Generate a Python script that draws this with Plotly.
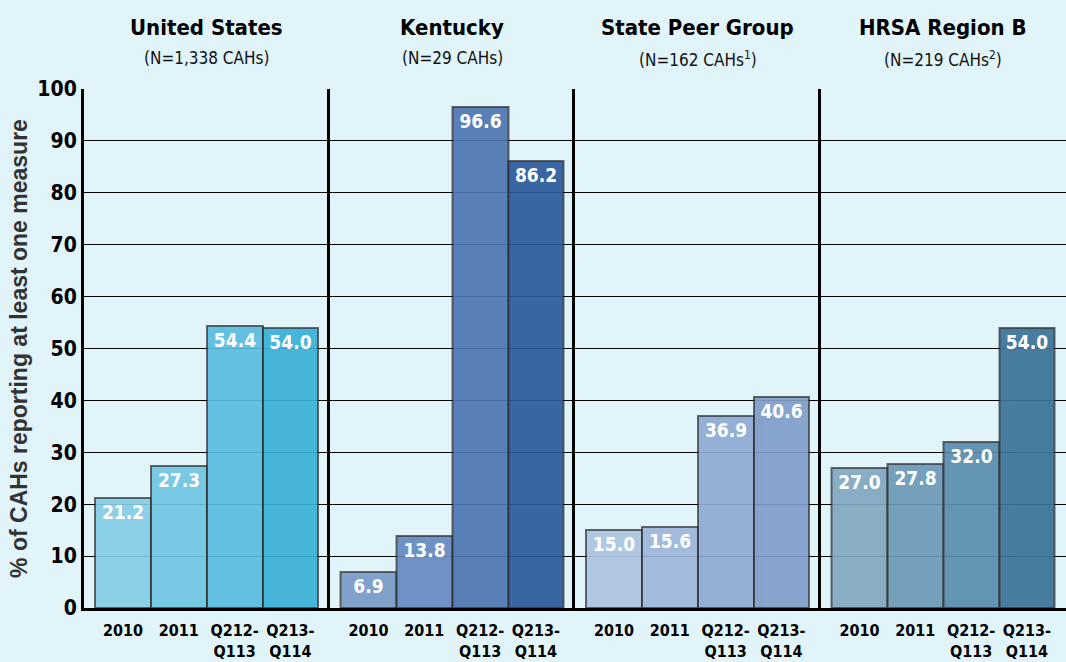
import plotly.graph_objects as go
from plotly.subplots import make_subplots

periods = ['2010', '2011', 'Q212-<br>Q113', 'Q213-<br>Q114']

groups = ['United States', 'Kentucky', 'State Peer Group', 'HRSA Region B']
group_n = ['(N=1,338 CAHs)', '(N=29 CAHs)', '(N=162 CAHs<sup>1</sup>)', '(N=219 CAHs<sup>2</sup>)']

us_values = [21.2, 27.3, 54.4, 54.0]
ky_values = [6.9, 13.8, 96.6, 86.2]
peer_values = [15.0, 15.6, 36.9, 40.6]
hrsa_values = [27.0, 27.8, 32.0, 54.0]

us_colors = ['#85cde6', '#6fc5e2', '#59bcdf', '#38b0d6']
ky_colors = ['#7a99c6', '#6589c0', '#4e76b0', '#2b5a9b']
peer_colors = ['#adc4e0', '#9db6da', '#8eabd4', '#7f9dc8']
hrsa_colors = ['#80a7c1', '#6b98b6', '#5a8bad', '#3c7298']

all_values = [us_values, ky_values, peer_values, hrsa_values]
all_colors = [us_colors, ky_colors, peer_colors, hrsa_colors]

font_narrow = 'DejaVu Sans Condensed, Liberation Sans Narrow, sans-serif'

fig = make_subplots(rows=1, cols=4, shared_yaxes=True, horizontal_spacing=0)

for i, (vals, cols) in enumerate(zip(all_values, all_colors)):
    fig.add_trace(go.Bar(
        x=periods,
        y=vals,
        marker=dict(color=cols, opacity=0.92,
                    line=dict(color='rgba(40,40,40,0.75)', width=2)),
        text=[f'{v:.1f}' for v in vals],
        textposition='inside',
        insidetextanchor='end',
        textangle=0,
        textfont=dict(family=font_narrow, size=19, color='white', weight='bold'),
        cliponaxis=False,
        showlegend=False,
        hoverinfo='skip',
    ), row=1, col=i + 1)

    xref = f'x{i + 1 if i else ""} domain'
    fig.add_annotation(
        text=f'<b>{groups[i]}</b>', xref=xref, yref='paper',
        x=0.5, y=1.0, yshift=76, showarrow=False,
        font=dict(family=font_narrow, size=22, color='black'),
    )
    fig.add_annotation(
        text=group_n[i], xref=xref, yref='paper',
        x=0.5, y=1.0, yshift=43, showarrow=False,
        font=dict(family=font_narrow, size=17, color='#111'),
    )

fig.update_xaxes(
    type='category', range=[-0.7, 3.7], showline=True, linecolor='black', linewidth=3,
    ticks='', showgrid=False, ticklabelstandoff=6,
    tickfont=dict(family=font_narrow, size=16, color='black', weight='bold'),
)
fig.update_yaxes(
    range=[0, 100], dtick=10, showgrid=True, gridcolor='black', gridwidth=1,
    showline=True, linecolor='black', linewidth=3, zeroline=False,
    ticks='', tickfont=dict(family=font_narrow, size=21, color='black', weight='bold'),
)
fig.update_yaxes(
    title=dict(text='% of CAHs reporting at least one measure',
               font=dict(family='Liberation Sans, Arial, sans-serif', size=23, color='#333', weight='bold'),
               standoff=4),
    row=1, col=1,
)

fig.update_layout(
    width=1066, height=662,
    margin=dict(l=84, r=0, t=89, b=54),
    paper_bgcolor='#e0f4f9', plot_bgcolor='#e0f4f9',
    bargap=0,
    uniformtext=dict(minsize=10, mode='show'),
)

fig.write_html('out.html', config={'displayModeBar': False},
               post_script="document.body.style.margin='0';document.body.style.background='#e0f4f9';")
